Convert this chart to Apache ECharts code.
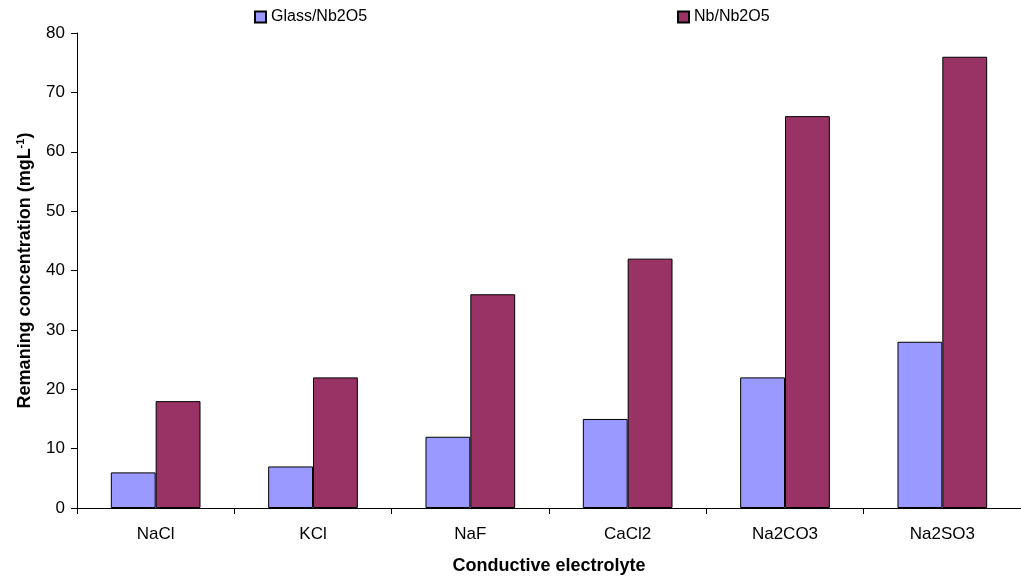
<!DOCTYPE html>
<html><head><meta charset="utf-8">
<script src="https://cdn.jsdelivr.net/npm/echarts@6/dist/echarts.min.js"></script>
<style>html,body{margin:0;padding:0;background:#fff}#c{width:1021px;height:580px}</style>
</head><body><div id="c"></div>
<script>
const categories = ['NaCl','KCl','NaF','CaCl2','Na2CO3','Na2SO3'];
const glass = [6,7,12,15,22,28];
const nb = [18,22,36,42,66,76];
const yTicks = {min:0, max:80, interval:10};

const font = 'Liberation Sans, Arial, sans-serif';
const chart = echarts.init(document.getElementById('c'));
const legendStyle = {fontSize:16, color:'#000', fontFamily:font};
chart.setOption({
  animation:false,
  textStyle:{fontFamily:font},
  legend:[
    {data:['Glass/Nb2O5'], left:254, top:9, padding:0, icon:'rect', itemWidth:11, itemHeight:11, textStyle:legendStyle},
    {data:['Nb/Nb2O5'], left:677, top:9, padding:0, icon:'rect', itemWidth:11, itemHeight:11, textStyle:legendStyle}
  ],
  grid:{left:77, top:33, width:951, height:475, containLabel:false},
  xAxis:{
    type:'category', data:categories,
    name:'Conductive electrolyte', nameLocation:'middle', nameGap:49,
    nameTextStyle:{fontSize:18, fontWeight:'bold', color:'#000', fontFamily:font},
    axisLine:{lineStyle:{color:'#000', width:1}},
    axisTick:{show:true, length:6, lineStyle:{color:'#000'}},
    axisLabel:{fontSize:17, color:'#000', margin:18, fontFamily:font}
  },
  yAxis:{
    type:'value', min:yTicks.min, max:yTicks.max, interval:yTicks.interval,
    name:'{a|Remaning concentration (mgL}{s|-1}{a|)}', nameLocation:'middle', nameGap:41, nameRotate:90,
    nameTextStyle:{rich:{
      a:{fontSize:18, fontWeight:'bold', color:'#000', fontFamily:font},
      s:{fontSize:11, fontWeight:'bold', color:'#000', fontFamily:font, padding:[0,0,10,0]}
    }},
    axisLine:{show:true, lineStyle:{color:'#000', width:1}},
    axisTick:{show:true, length:6, lineStyle:{color:'#000'}},
    splitLine:{show:false},
    axisLabel:{fontSize:17, color:'#000', margin:12, fontFamily:font}
  },
  series:[
    {name:'Glass/Nb2O5', type:'bar', data:glass, barGap:'0%', barCategoryGap:'43%',
     itemStyle:{color:'#9999FF', borderColor:'#000', borderWidth:1}},
    {name:'Nb/Nb2O5', type:'bar', data:nb, barGap:'0%', barCategoryGap:'43%',
     itemStyle:{color:'#993366', borderColor:'#000', borderWidth:1}}
  ]
});
</script></body></html>
